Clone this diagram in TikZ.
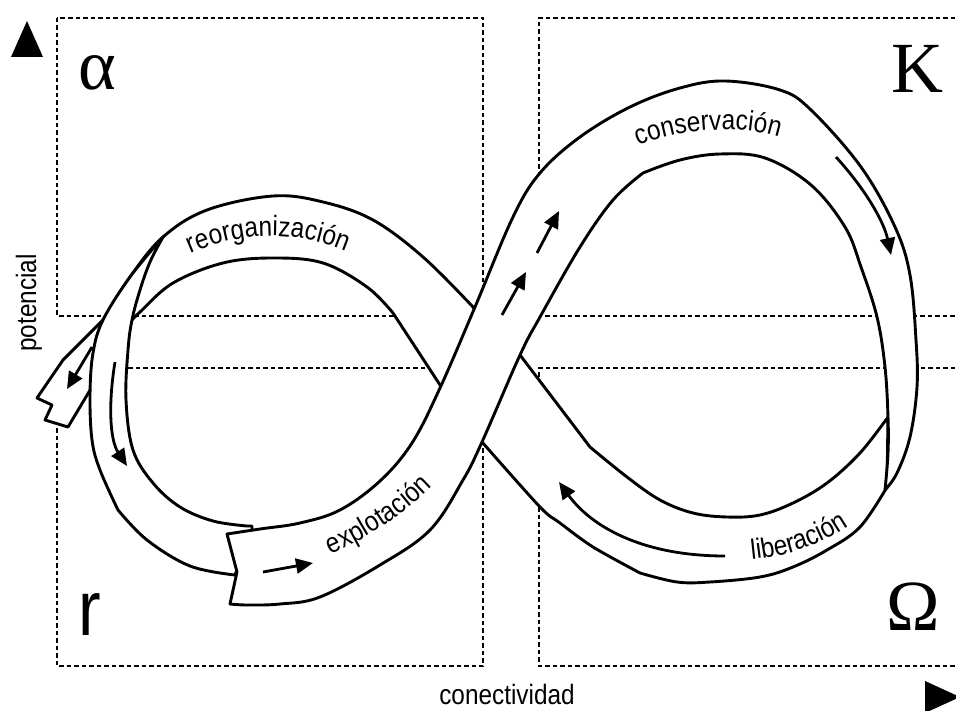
\documentclass[tikz,border=0pt]{standalone}
\usepackage{fontspec}
\setmainfont{Liberation Sans}
\newfontfamily\nar[FakeStretch=0.87]{Liberation Sans}
\newfontfamily\grk{Liberation Serif}
\usetikzlibrary{arrows.meta,decorations.text}
\newcommand\lblfont{\nar\fontsize{28}{30}\selectfont}
\begin{document}
\begin{tikzpicture}[x=1pt,y=-1pt,
  band/.style={draw=black, fill=white, line width=2.9pt, line join=round},
  guide/.style={draw=black, line width=1.2pt, dash pattern=on 4.5pt off 3pt},
  flow/.style={draw=black, line width=2.8pt, -{Triangle[length=17pt,width=15pt]}},
  lbl/.style={font=\lblfont, inner sep=0pt},
  greek/.style={font=\grk\fontsize{72}{74}\selectfont, inner sep=0pt},
  rlet/.style={font=\nar\fontsize{78}{80}\selectfont, inner sep=0pt},
  curvetext/.style={decorate, decoration={text along path, text align=center, text={|\lblfont|#1}}}
]
\useasboundingbox (0,0) rectangle (956,711);

% quadrant guides
\draw[guide] (57,18) rectangle (483,316);
\draw[guide] (57,368) rectangle (483,666);
\draw[guide] (970,18) -- (539,18) -- (539,316) -- (970,316);
\draw[guide] (970,368) -- (539,368) -- (539,666) -- (970,666);

% back band: liberacion + reorganizacion + tail
\path[band] (887,487)
  -- plot[smooth, tension=0.6] coordinates {(887,487) (860,527) (827,550) (793,567) (760,577) (710,582) (677,582) (640,573)}
  -- plot[smooth, tension=0.5] coordinates {(640,573) (593,547) (560,523) (540,507) (482,442)}
  -- (442,388) -- (393,313)
  -- plot[smooth, tension=0.6] coordinates {(393,313) (367,287) (323,263) (273,258) (223,263) (173,283) (140,312) (132,320)}
  -- (68,427) -- (45,420) -- (52,405) -- (37,398) -- (63,360) -- (103,320)
  -- plot[smooth, tension=0.6] coordinates {(103,320) (130,277) (163,237) (207,210) (273,196) (323,202) (373,220) (423,257) (473,307)}
  -- (520,355) -- (590,447)
  -- plot[smooth, tension=0.6] coordinates {(590,447) (627,477) (660,500) (693,513) (727,517) (760,515) (793,503) (827,483) (860,453) (888,417)}
  -- cycle;

% descending left band
\path[band] (163,237)
  -- plot[smooth, tension=0.6] coordinates {(163,237) (130,277) (103,320) (93,353) (90,395) (92,440) (100,470) (118,510)}
  -- plot[smooth, tension=0.6] coordinates {(118,510) (147,540) (190,566) (235,575)}
  -- (252,531) -- (252,526) -- (247,526)
  -- plot[smooth, tension=0.6] coordinates {(247,526) (213,521) (180,507) (153,483) (133,450) (126,400) (128,350) (132,320) (140,290) (150,262) (163,237)}
  -- cycle;

% front band: explotacion + conservacion
\path[band] (227,534)
  -- plot[smooth, tension=0.6] coordinates {(227,534) (260,529) (300,523) (340,510) (380,481) (412,443) (440,388) (475,307) (513,217) (540,173) (580,137) (630,107) (680,88) (725,81) (780,90) (811,110) (861,167) (895,227) (910,275) (916,340) (917,387) (910,437) (897,473) (885,490)}
  -- plot[smooth, tension=0.6] coordinates {(885,490) (888,453) (888,417) (885,367) (877,317) (861,267) (845,227) (811,185) (765,158) (720,154) (680,160) (643,173)}
  -- plot[smooth, tension=0.6] coordinates {(643,173) (613,200) (580,247) (540,317) (520,355) (482,442) (463,480) (430,530) (380,565) (320,597) (280,604) (247,605) (230,604)}
  -- (237,572) -- cycle;

% flow arrows
\draw[flow] (92,347) -- (67,389);
\draw[flow] (115,362) .. controls (108,405) and (110,440) .. (127,466);
\draw[flow] (263,572) -- (313,563);
\draw[flow] (502,315) -- (526,272);
\draw[flow] (537,253) -- (559,211);
\draw[flow] (836,157) .. controls (866,190) and (884,222) .. (891,255);
\draw[flow] (725,556) .. controls (640,556) and (590,525) .. (559,482);

% band labels
\path[curvetext=reorganización] (181,258) .. controls (240,229) and (300,229) .. (356,256);
\path[curvetext=conservación] (628,151) .. controls (670,128) and (745,122) .. (790,141);
\path[curvetext=explotación] (324,557) .. controls (362,542) and (404,516) .. (438,481);
\path[curvetext=liberación] (746,560) .. controls (785,557) and (822,546) .. (854,523);

% axes
\fill (11,57) -- (43,57) -- (27,21) -- cycle;
\fill (925,681) -- (925,713) -- (960,697) -- cycle;
\node[lbl, rotate=90, anchor=base] (pot) at (36,303) {potencial};
\node[lbl, anchor=base] (conn) at (507,704) {conectividad};

% phase letters
\node[greek, anchor=base] (alpha) at (97,90) {α};
\node[greek, anchor=base] (kk) at (917,93) {K};
\node[greek, anchor=base] (om) at (913,630) {Ω};
\node[rlet, anchor=base] (rr) at (90,635) {r};
\end{tikzpicture}
\end{document}
